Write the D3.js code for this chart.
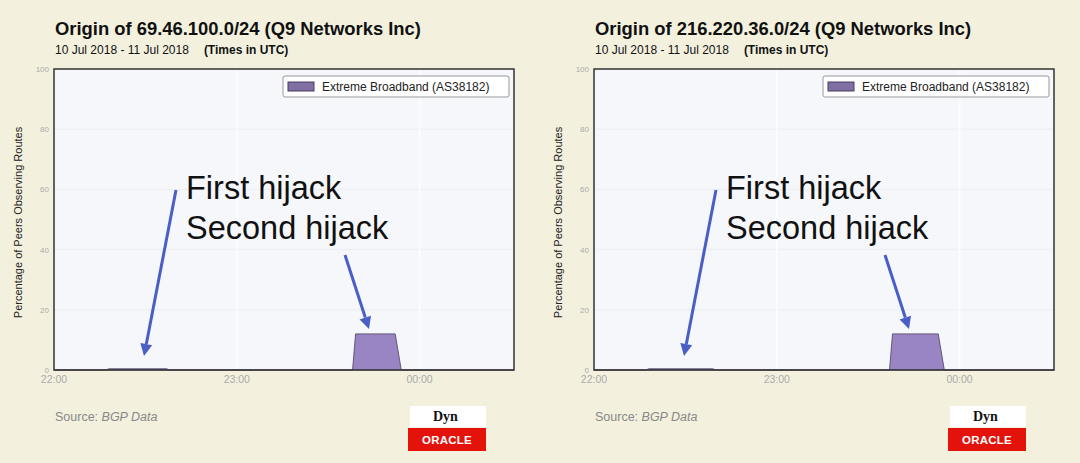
<!DOCTYPE html>
<html>
<head>
<meta charset="utf-8">
<script src="https://cdn.jsdelivr.net/npm/d3@7"></script>
<style>
  html, body { margin: 0; padding: 0; background: #f3f1de; }
  svg { display: block; font-family: "Liberation Sans", Arial, sans-serif; }
</style>
</head>
<body>
<script>
// Prefixes shown in the two panels
const prefixes = ["69.46.100.0/24", "216.220.36.0/24"];
const owner = "Q9 Networks Inc";
const dateRange = "10 Jul 2018 - 11 Jul 2018";
const seriesName = "Extreme Broadband (AS38182)";

// Time axis (UTC), from 22:00 on 10 Jul to 00:31 on 11 Jul
const domainStart = "2018-07-10 22:00";
const domainEnd = "2018-07-11 00:31";
const yTicks = [0, 20, 40, 60, 80, 100];

// Percentage of peers observing the route
const leftTimes = ["2018-07-10 22:00", "2018-07-10 22:17", "2018-07-10 22:18", "2018-07-10 22:37", "2018-07-10 22:38",
  "2018-07-10 23:38", "2018-07-10 23:39", "2018-07-10 23:52", "2018-07-10 23:54", "2018-07-11 00:31"];
const leftValues = [0, 0, 0.4, 0.4, 0, 0, 12, 12, 0, 0];

const rightTimes = ["2018-07-10 22:00", "2018-07-10 22:17", "2018-07-10 22:18", "2018-07-10 22:39", "2018-07-10 22:40",
  "2018-07-10 23:37", "2018-07-10 23:38", "2018-07-10 23:53", "2018-07-10 23:55", "2018-07-11 00:31"];
const rightValues = [0, 0, 0.4, 0.4, 0, 0, 12, 12, 0, 0];

const labels = ["First hijack", "Second hijack"];

const width = 1080, height = 463;
const parse = d3.utcParse("%Y-%m-%d %H:%M");

const svg = d3.select("body").append("svg")
  .attr("width", width)
  .attr("height", height);

function panel(ox, prefix, times, values) {
  const g = svg.append("g").attr("transform", `translate(${ox},0)`);
  const m = {left: 54, right: 514, top: 69, bottom: 370};

  const x = d3.scaleUtc()
    .domain([parse(domainStart), parse(domainEnd)])
    .range([m.left, m.right]);
  const y = d3.scaleLinear().domain([0, 100]).range([m.bottom, m.top]);

  // Titles
  g.append("text")
    .attr("x", 55).attr("y", 35)
    .attr("font-size", 18.4).attr("font-weight", "bold").attr("fill", "#111")
    .text(`Origin of ${prefix} (${owner})`);
  const sub = g.append("text")
    .attr("x", 55).attr("y", 54)
    .attr("font-size", 12).attr("fill", "#111");
  sub.append("tspan").text(dateRange);
  sub.append("tspan").attr("dx", 15).attr("font-weight", "bold").text("(Times in UTC)");

  // Plot background
  g.append("rect")
    .attr("x", m.left).attr("y", m.top)
    .attr("width", m.right - m.left).attr("height", m.bottom - m.top)
    .attr("fill", "#f5f7fb");

  // Faint grid
  g.append("g").selectAll("line")
    .data(yTicks.slice(1, -1))
    .join("line")
    .attr("x1", m.left).attr("x2", m.right)
    .attr("y1", d => y(d)).attr("y2", d => y(d))
    .attr("stroke", "#edf0f4").attr("stroke-width", 1.5);
  g.append("g").selectAll("line")
    .data(x.ticks(d3.utcHour.every(1)).slice(1))
    .join("line")
    .attr("x1", d => x(d)).attr("x2", d => x(d))
    .attr("y1", m.top).attr("y2", m.bottom)
    .attr("stroke", "#fbfcfe").attr("stroke-width", 2);

  // Area
  const pts = times.map((t, i) => ({t: parse(t), v: values[i]}));
  const area = d3.area()
    .x(d => x(d.t))
    .y0(y(0))
    .y1(d => y(d.v));
  g.append("path")
    .datum(pts)
    .attr("d", area)
    .attr("fill", "#9985c3")
    .attr("stroke", "#4a3f60")
    .attr("stroke-width", 0.8);

  // Frame
  g.append("rect")
    .attr("x", m.left).attr("y", m.top)
    .attr("width", m.right - m.left).attr("height", m.bottom - m.top)
    .attr("fill", "none").attr("stroke", "#333").attr("stroke-width", 1.5);

  // Axes labels
  g.append("g").selectAll("text")
    .data(yTicks)
    .join("text")
    .attr("x", m.left - 5).attr("y", d => y(d) + 3)
    .attr("text-anchor", "end")
    .attr("font-size", 8).attr("fill", "#aaa")
    .text(d => d);
  g.append("g").selectAll("text")
    .data(x.ticks(d3.utcHour.every(1)))
    .join("text")
    .attr("x", d => x(d)).attr("y", m.bottom + 13)
    .attr("text-anchor", "middle")
    .attr("font-size", 10.5).attr("fill", "#aaa")
    .text(d => d3.utcFormat("%H:%M")(d));

  g.append("text")
    .attr("transform", `translate(22,${(m.top + m.bottom) / 2 + 3}) rotate(-90)`)
    .attr("text-anchor", "middle")
    .attr("font-size", 11).attr("fill", "#222")
    .text("Percentage of Peers Observing Routes");

  // Legend
  const lg = g.append("g").attr("transform", "translate(283,76)");
  lg.append("rect")
    .attr("width", 226).attr("height", 21).attr("rx", 2)
    .attr("fill", "#fff").attr("stroke", "#999");
  lg.append("rect")
    .attr("x", 5).attr("y", 6).attr("width", 26).attr("height", 9)
    .attr("fill", "#7f6fa2").attr("stroke", "#4a3f60");
  lg.append("text")
    .attr("x", 39).attr("y", 15)
    .attr("font-size", 12).attr("fill", "#222")
    .text(seriesName);

  // Annotations
  const blue = "#4a5ec6";
  g.append("text").attr("x", 186).attr("y", 199)
    .attr("font-size", 32.5).attr("fill", "#111").text(labels[0]);
  g.append("text").attr("x", 186).attr("y", 239)
    .attr("font-size", 32.5).attr("fill", "#111").text(labels[1]);
  const arrows = [
    {x1: 176, y1: 190, x2: 144, y2: 356},
    {x1: 345, y1: 255, x2: 369, y2: 329}
  ];
  arrows.forEach(a => {
    const ang = Math.atan2(a.y2 - a.y1, a.x2 - a.x1);
    const L = 12, W = 6;
    const bx = a.x2 - L * Math.cos(ang), by = a.y2 - L * Math.sin(ang);
    g.append("line")
      .attr("x1", a.x1).attr("y1", a.y1).attr("x2", bx).attr("y2", by)
      .attr("stroke", blue).attr("stroke-width", 3);
    const px = -Math.sin(ang) * W, py = Math.cos(ang) * W;
    g.append("path")
      .attr("d", `M${a.x2},${a.y2}L${bx + px},${by + py}L${bx - px},${by - py}Z`)
      .attr("fill", blue);
  });

  // Footer
  const src = g.append("text").attr("x", 55).attr("y", 421)
    .attr("font-size", 12.5).attr("fill", "#888");
  src.append("tspan").text("Source: ");
  src.append("tspan").attr("font-style", "italic").text("BGP Data");

  g.append("rect").attr("x", 410).attr("y", 406).attr("width", 76).attr("height", 21).attr("fill", "#fff");
  g.append("text").attr("x", 433).attr("y", 421)
    .attr("font-family", "'Liberation Serif', serif")
    .attr("font-size", 14).attr("font-weight", "bold").attr("fill", "#111")
    .text("Dyn");
  g.append("rect").attr("x", 408).attr("y", 428).attr("width", 78).attr("height", 23).attr("fill", "#e3120b");
  g.append("text").attr("x", 447).attr("y", 444)
    .attr("text-anchor", "middle")
    .attr("font-size", 11.5).attr("font-weight", "bold").attr("fill", "#fff").attr("letter-spacing", 0.2)
    .text("ORACLE");
}

panel(0, prefixes[0], leftTimes, leftValues);
panel(540, prefixes[1], rightTimes, rightValues);
</script>
</body>
</html>
